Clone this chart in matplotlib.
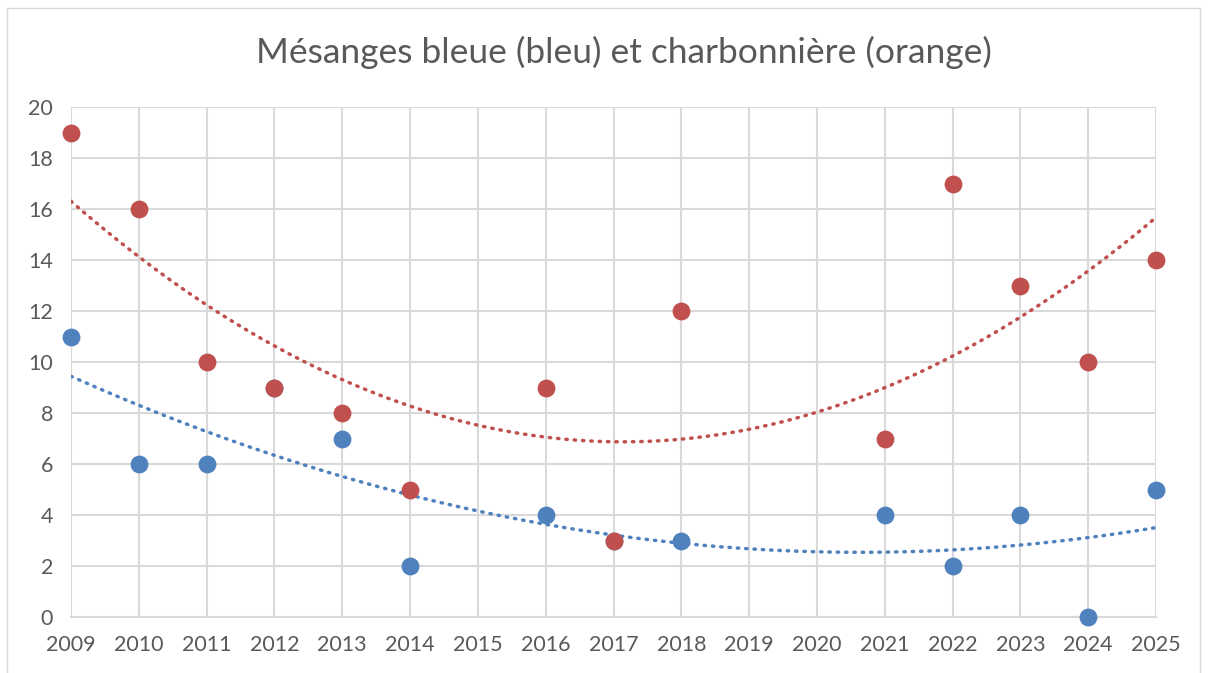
import numpy as np
import matplotlib.pyplot as plt
from matplotlib.patches import Rectangle

plt.rcParams['font.family'] = ['Lato', 'DejaVu Sans']

# Mésange bleue (2012 and 2017 sit under the red points)
blue_years = [2009, 2010, 2011, 2012, 2013, 2014, 2016, 2017, 2018, 2021, 2022, 2023, 2024, 2025]
blue_counts = [11, 6, 6, 9, 7, 2, 4, 3, 3, 4, 2, 4, 0, 5]

# Mésange charbonnière
red_years = [2009, 2010, 2011, 2012, 2013, 2014, 2016, 2017, 2018, 2021, 2022, 2023, 2024, 2025]
red_counts = [19, 16, 10, 9, 8, 5, 9, 3, 12, 7, 17, 13, 10, 14]

blue = "#4F81BD"
red = "#C0504D"

fig = plt.figure(figsize=(12.08, 6.73), dpi=100)
ax = fig.add_axes([71/1208, 1 - 617/673, (1156 - 71)/1208, (617 - 107)/673])

# chart frame
fig.patches.append(Rectangle((7/1208, -0.01), 1193/1208, 1 - 8/673 + 0.01,
                             transform=fig.transFigure, fill=False,
                             edgecolor="#D9D9D9", lw=1))

# polynomial trendlines (order 2), like Excel
xs = np.linspace(2009, 2025, 300)
for yrs, vals, c in [(blue_years, blue_counts, blue), (red_years, red_counts, red)]:
    x = np.array(yrs, dtype=float) - 2009
    coef = np.polyfit(x, vals, 2)
    ax.plot(xs, np.polyval(coef, xs - 2009), color=c, lw=2.5,
            linestyle=(0, (0.4, 2.0)), dash_capstyle="round", zorder=2)

ax.scatter(blue_years, blue_counts, s=140, color=blue, zorder=3, clip_on=False)
ax.scatter(red_years, red_counts, s=140, color=red, zorder=4, clip_on=False)

ax.set_xlim(2009, 2025)
ax.set_ylim(0, 20)
ax.set_xticks(range(2009, 2026))
ax.set_yticks(range(0, 21, 2))
ax.grid(True, color="#D9D9D9", lw=1.5)
ax.set_axisbelow(True)
for s in ["top", "right", "left"]:
    ax.spines[s].set_visible(False)
ax.spines["bottom"].set_color("#D9D9D9")
ax.spines["bottom"].set_linewidth(1.5)
ax.tick_params(length=0, labelsize=15.5, labelcolor="#595959", pad=13)

fig.text(624/1208, 1 - 52/673, "Mésanges bleue (bleu) et charbonnière (orange)",
         ha="center", va="center", fontsize=25.5, color="#595959")

fig.savefig("out.png", dpi=100)
